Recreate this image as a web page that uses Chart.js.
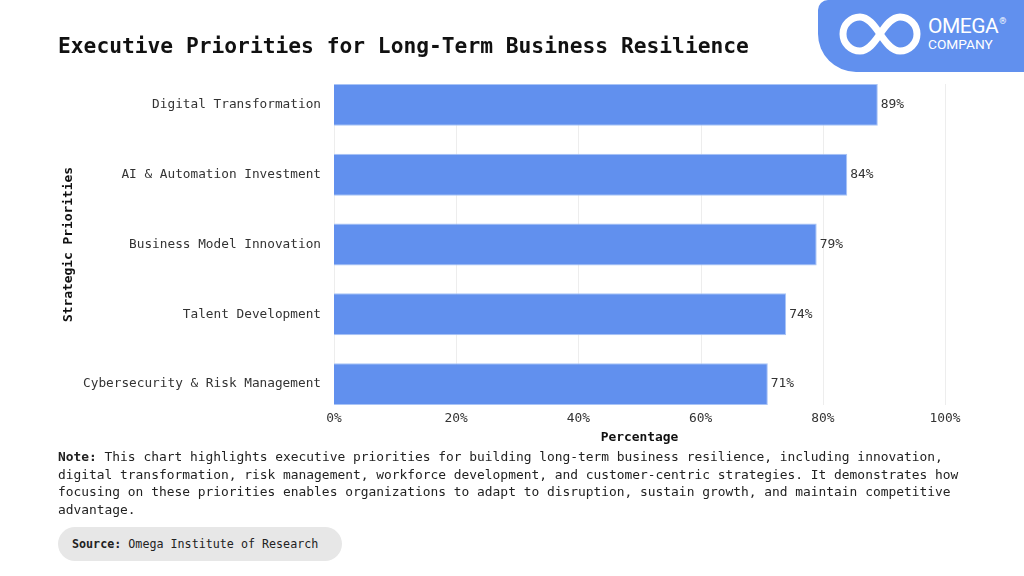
<!DOCTYPE html>
<html>
<head>
<meta charset="utf-8">
<script src="https://cdn.jsdelivr.net/npm/chart.js@4.4.1/dist/chart.umd.min.js"></script>
<style>
  html, body { margin: 0; padding: 0; background: #ffffff; }
  #page { position: relative; width: 1024px; height: 576px; overflow: hidden; font-family: "DejaVu Sans Mono", monospace; }
  #chartBox { position: absolute; left: 0; top: 0; width: 1024px; height: 576px; }
  #title { position: absolute; left: 58px; top: 34px; font-size: 21.25px; line-height: 24px; font-weight: bold; color: #111; white-space: nowrap; }
  #logo { position: absolute; left: 818px; top: 0; width: 206px; height: 72px; background: #6190ee; border-bottom-left-radius: 38px; border-top-left-radius: 10px; }
  #logo svg { position: absolute; left: 0; top: 0; }
  .logoTxt { position: absolute; left: 110px; color: #fff; font-family: Roboto, "Liberation Sans", sans-serif; line-height: 1; white-space: nowrap; }
  #omega { top: 16px; font-size: 21px; letter-spacing: -0.5px; }
  #omega sup { font-size: 9px; vertical-align: 9px; margin-left: 1px; }
  #company { top: 37.5px; font-size: 13.7px; }
  #note { position: absolute; left: 58px; top: 448px; font-size: 12.9px; line-height: 17.6px; color: #222; white-space: nowrap; }
  #source { position: absolute; left: 58px; top: 527px; width: 284px; height: 34px; border-radius: 17px; background: #e7e7e7; display: flex; align-items: center; }
  #source span { margin-left: 14px; font-size: 11.7px; color: #222; white-space: nowrap; }
</style>
</head>
<body>
<div id="page">
  <div id="chartBox"><canvas id="priorities"></canvas></div>
  <div id="title">Executive Priorities for Long-Term Business Resilience</div>
  <div id="logo">
    <svg width="206" height="72" viewBox="0 0 206 72">
      <path d="M62,34 C56,25 50,17 42,17 A17,17 0 0 0 42,51 C50,51 56,43 62,34 C68,25 74,17 82,17 A17,17 0 0 1 82,51 C74,51 68,43 62,34 Z"
            fill="none" stroke="#ffffff" stroke-width="7" stroke-linejoin="round"/>
    </svg>
    <div class="logoTxt" id="omega">OMEGA<sup>®</sup></div>
    <div class="logoTxt" id="company">COMPANY</div>
  </div>
  <div id="note"><b>Note:</b> This chart highlights executive priorities for building long-term business resilience, including innovation,<br>digital transformation, risk management, workforce development, and customer-centric strategies. It demonstrates how<br>focusing on these priorities enables organizations to adapt to disruption, sustain growth, and maintain competitive<br>advantage.</div>
  <div id="source"><span><b>Source:</b> Omega Institute of Research</span></div>
</div>

<script>
// donnees du graphique
const categories = [
  'Digital Transformation',
  'AI & Automation Investment',
  'Business Model Innovation',
  'Talent Development',
  'Cybersecurity & Risk Management'
];
const values = [89, 84, 79, 74, 71];
const percentTicks = [0, 20, 40, 60, 80, 100];

const monoFont = '"DejaVu Sans Mono", monospace';

// grille verticale limitee a la zone des barres
const barGrid = {
  id: 'barGrid',
  beforeDatasetsDraw(chart) {
    const ctx = chart.ctx;
    const xScale = chart.scales.x;
    const bars = chart.getDatasetMeta(0).data;
    const top = bars[0].y - bars[0].height / 2;
    const bottom = bars[bars.length - 1].y + bars[bars.length - 1].height / 2;
    ctx.save();
    ctx.strokeStyle = '#ededed';
    ctx.lineWidth = 1;
    percentTicks.forEach(v => {
      const x = Math.round(xScale.getPixelForValue(v)) + 0.5;
      ctx.beginPath();
      ctx.moveTo(x, top);
      ctx.lineTo(x, bottom);
      ctx.stroke();
    });
    ctx.restore();
  }
};

// etiquettes de l'axe x et valeurs au bout des barres
const labelsPlugin = {
  id: 'labelsPlugin',
  afterDatasetsDraw(chart) {
    const ctx = chart.ctx;
    const xScale = chart.scales.x;
    const meta = chart.getDatasetMeta(0);
    ctx.save();
    ctx.font = '12.9px ' + monoFont;
    ctx.fillStyle = '#333333';
    ctx.textBaseline = 'middle';
    ctx.textAlign = 'left';
    meta.data.forEach((bar, i) => {
      ctx.fillText(values[i] + '%', bar.x + 3, bar.y);
    });
    ctx.textAlign = 'center';
    const lastBar = meta.data[meta.data.length - 1];
    const tickY = lastBar.y + lastBar.height / 2 + 14;
    percentTicks.forEach(v => {
      ctx.fillText(v + '%', xScale.getPixelForValue(v), tickY);
    });
    ctx.restore();
  }
};

const ctx = document.getElementById('priorities').getContext('2d');
const myChart = new Chart(ctx, {
  type: 'bar',
  data: {
    labels: categories,
    datasets: [{
      data: values,
      backgroundColor: '#6190ee',
      borderColor: '#a9c4f6',
      borderWidth: 1,
      categoryPercentage: 0.6,
      barPercentage: 1
    }]
  },
  options: {
    indexAxis: 'y',
    responsive: true,
    maintainAspectRatio: false,
    animation: false,
    layout: { padding: { left: 57, top: 70, right: 79, bottom: 127 } },
    plugins: {
      legend: { display: false },
      tooltip: { enabled: false }
    },
    scales: {
      x: {
        min: 0,
        max: 100,
        afterBuildTicks: scale => { scale.ticks = percentTicks.map(v => ({ value: v })); },
        afterFit: scale => { scale.height = 30; },
        grid: { display: false },
        border: { display: false },
        ticks: { display: false },
        title: {
          display: true,
          text: 'Percentage',
          color: '#111111',
          font: { family: monoFont, size: 12.9, weight: 'bold' }
        }
      },
      y: {
        afterFit: scale => { scale.width = 277; },
        grid: { display: false, drawTicks: false },
        border: { display: false },
        ticks: {
          padding: 13,
          color: '#333333',
          font: { family: monoFont, size: 12.75 }
        },
        title: {
          display: true,
          text: 'Strategic Priorities',
          color: '#111111',
          font: { family: monoFont, size: 12.9, weight: 'bold' }
        }
      }
    }
  },
  plugins: [barGrid, labelsPlugin]
});
</script>
</body>
</html>
